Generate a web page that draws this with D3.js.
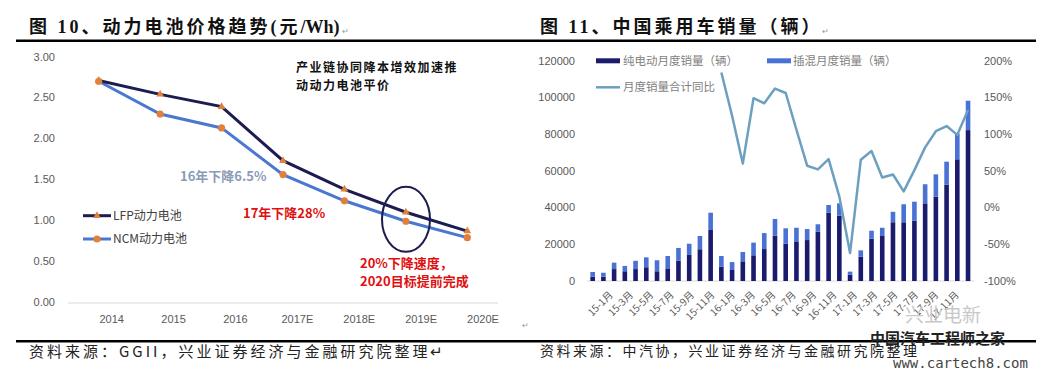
<!DOCTYPE html>
<html>
<head>
<meta charset="utf-8">
<script src="https://cdn.jsdelivr.net/npm/d3@7"></script>
<style>
  body { margin: 0; background: #fff; }
  svg { display: block; }
</style>
</head>
<body>
<svg id="chart" width="1038" height="378"></svg>
<script>
// left chart: battery price (yuan/Wh)
var years = ["2014", "2015", "2016", "2017E", "2018E", "2019E", "2020E"];
var lfpPrice = [2.71, 2.54, 2.39, 1.73, 1.38, 1.10, 0.87];
var ncmPrice = [2.70, 2.30, 2.13, 1.56, 1.24, 0.99, 0.79];
var priceTicks = [0, 0.5, 1, 1.5, 2, 2.5, 3];

// right chart: monthly sales
var months = ["15-1月","15-2月","15-3月","15-4月","15-5月","15-6月","15-7月","15-8月","15-9月","15-10月","15-11月","15-12月",
              "16-1月","16-2月","16-3月","16-4月","16-5月","16-6月","16-7月","16-8月","16-9月","16-10月","16-11月","16-12月",
              "17-1月","17-2月","17-3月","17-4月","17-5月","17-6月","17-7月","17-8月","17-9月","17-10月","17-11月","17-12月"];
var bevSales = [2300, 2300, 6500, 5300, 6500, 7500, 5300, 6900, 11000, 14200, 17300, 27800,
                7800, 6000, 10700, 14000, 17400, 24700, 20300, 21600, 22300, 26900, 37200, 35600,
                3400, 13200, 23000, 24500, 32000, 32000, 32800, 42300, 45900, 52500, 66300, 82200];
var phevSales = [2600, 2200, 3500, 2900, 4500, 5400, 6000, 6700, 7000, 6100, 7200, 9400,
                 5800, 4300, 5100, 6900, 8700, 9100, 8400, 7400, 6000, 4000, 4200, 6700,
                 1700, 3500, 4400, 4500, 5700, 9800, 10400, 10400, 12200, 12500, 14100, 16000];
var yoyMonths = months.slice(12);
var yoyPct = [184, 125, 60, 149, 142, 162, 156, 106, 57, 52, 66, 15,
              -62, 65, 77, 41, 45, 22, 51, 82, 104, 111, 99, 133];
var salesTicks = [0, 20000, 40000, 60000, 80000, 100000, 120000];
var pctTicks = [-100, -50, 0, 50, 100, 150, 200];
var monthLabels = months.filter(function(d, i){ return i % 2 === 0; });

var svg = d3.select("#chart");
var cjk = "'Noto Sans CJK SC', 'Liberation Sans', sans-serif";
var titleFont = "'Liberation Serif', 'Noto Sans CJK SC', serif";
var grey = "#595959";

svg.append("rect").attr("width", 1038).attr("height", 378).attr("fill", "#fff");

// titles and rules
var t1 = svg.append("text").attr("x", 29).attr("y", 33)
  .style("font-family", titleFont).style("font-size", "18px").style("font-weight", "bold")
  .style("letter-spacing", "3px").attr("fill", "#111");
t1.append("tspan").text("图 10、动力电池价格趋势(元");
t1.append("tspan").style("letter-spacing", "0px").text("/Wh)");
var t2 = svg.append("text").attr("x", 540).attr("y", 33)
  .style("font-family", titleFont).style("font-size", "18px").style("font-weight", "bold")
  .style("letter-spacing", "3px").attr("fill", "#111");
t2.append("tspan").text("图 11、中国乘用车销量（辆）");
svg.append("text").attr("x", 342).attr("y", 34).style("font-size", "8px").attr("fill", "#999").text("↵");
svg.append("text").attr("x", 822).attr("y", 34).style("font-size", "8px").attr("fill", "#999").text("↵");

svg.append("line").attr("x1", 16).attr("x2", 1036).attr("y1", 40.7).attr("y2", 40.7)
  .attr("stroke", "#000").attr("stroke-width", 2.5);
svg.append("line").attr("x1", 16).attr("x2", 1036).attr("y1", 341.2).attr("y2", 341.2)
  .attr("stroke", "#000").attr("stroke-width", 2.5);

svg.append("text").attr("x", 29).attr("y", 357)
  .style("font-family", cjk).style("font-size", "15px").style("letter-spacing", "3px").attr("fill", "#222")
  .text("资料来源：GGII，兴业证券经济与金融研究院整理↵");
svg.append("text").attr("x", 540).attr("y", 356)
  .style("font-family", cjk).style("font-size", "14px").style("letter-spacing", "2.5px").attr("fill", "#222")
  .text("资料来源：中汽协，兴业证券经济与金融研究院整理");

// ---------- left chart ----------
var yL = d3.scaleLinear().domain([0, 3]).range([302.3, 56.7]);
var xPt = d3.scalePoint().domain(years).range([98.7, 467.3]);
var xLab = d3.scalePoint().domain(years).range([111.7, 483]);

var left = svg.append("g");

left.append("line").attr("x1", 68).attr("x2", 498).attr("y1", 303).attr("y2", 303)
  .attr("stroke", "#d9d9d9").attr("stroke-width", 1);

left.selectAll(".ytick").data(priceTicks).enter().append("text")
  .attr("x", 55).attr("y", function(d){ return yL(d); }).attr("dy", "0.35em")
  .attr("text-anchor", "end").style("font-family", "'Liberation Sans', sans-serif")
  .style("font-size", "11px").attr("fill", grey)
  .text(function(d){ return d3.format(".2f")(d); });

left.selectAll(".xlab").data(years).enter().append("text")
  .attr("x", function(d){ return xLab(d); }).attr("y", 319).attr("dy", "0.35em")
  .attr("text-anchor", "middle").style("font-family", "'Liberation Sans', sans-serif")
  .style("font-size", "11px").attr("fill", grey)
  .text(function(d){ return d; });

var lineL = function(vals) {
  return d3.line().x(function(d, i){ return xPt(years[i]); }).y(function(d){ return yL(d); })(vals);
};

left.append("path").attr("d", lineL(ncmPrice)).attr("fill", "none")
  .attr("stroke", "#4a78d0").attr("stroke-width", 3);
left.append("path").attr("d", lineL(lfpPrice)).attr("fill", "none")
  .attr("stroke", "#1c1c50").attr("stroke-width", 3);

var tri = d3.symbol().type(d3.symbolTriangle).size(26);
left.selectAll(".lfpm").data(lfpPrice).enter().append("path")
  .attr("d", tri)
  .attr("transform", function(d, i){ return "translate(" + xPt(years[i]) + "," + yL(d) + ")"; })
  .attr("fill", "#e0803a");
left.selectAll(".ncmm").data(ncmPrice).enter().append("circle")
  .attr("cx", function(d, i){ return xPt(years[i]); }).attr("cy", function(d){ return yL(d); })
  .attr("r", 3.6).attr("fill", "#e0803a");

// legend
var legL = [{name: "LFP动力电池", color: "#1c1c50", tri: true, y: 215.7},
            {name: "NCM动力电池", color: "#4a78d0", tri: false, y: 239}];
legL.forEach(function(l) {
  left.append("line").attr("x1", 83).attr("x2", 111).attr("y1", l.y).attr("y2", l.y)
    .attr("stroke", l.color).attr("stroke-width", 3);
  if (l.tri) {
    left.append("path").attr("d", tri).attr("transform", "translate(97," + l.y + ")").attr("fill", "#e0803a");
  } else {
    left.append("circle").attr("cx", 97).attr("cy", l.y).attr("r", 3.6).attr("fill", "#e0803a");
  }
  left.append("text").attr("x", 113).attr("y", l.y).attr("dy", "0.35em")
    .style("font-family", cjk).style("font-size", "12px").attr("fill", "#404040").text(l.name);
});

// annotations
left.append("text").attr("x", 296).attr("y", 72).style("font-family", cjk).style("font-size", "12px")
  .style("font-weight", "bold").style("letter-spacing", "1.5px").attr("fill", "#111").text("产业链协同降本增效加速推");
left.append("text").attr("x", 296).attr("y", 90).style("font-family", cjk).style("font-size", "12px")
  .style("font-weight", "bold").style("letter-spacing", "1.5px").attr("fill", "#111").text("动动力电池平价");
left.append("text").attr("x", 180).attr("y", 181).style("font-family", cjk).style("font-size", "13px")
  .style("font-weight", "bold").attr("fill", "#8a9bb8").text("16年下降6.5%");
left.append("text").attr("x", 243).attr("y", 218).style("font-family", cjk).style("font-size", "13px")
  .style("font-weight", "bold").attr("fill", "#e01010").text("17年下降28%");
left.append("text").attr("x", 360).attr("y", 268).style("font-family", cjk).style("font-size", "13px")
  .style("font-weight", "bold").attr("fill", "#e01010").text("20%下降速度，");
left.append("text").attr("x", 360).attr("y", 286).style("font-family", cjk).style("font-size", "13px")
  .style("font-weight", "bold").attr("fill", "#e01010").text("2020目标提前完成");
left.append("ellipse").attr("cx", 406).attr("cy", 219.3).attr("rx", 24).attr("ry", 32.5)
  .attr("fill", "none").attr("stroke", "#1c1c50").attr("stroke-width", 2);

// ---------- right chart ----------
var xB = d3.scaleBand().domain(months).range([587.3, 973.4]).paddingInner(0.57).paddingOuter(0.285);
var yS = d3.scaleLinear().domain([0, 120000]).range([281, 60.7]);
var yP = d3.scaleLinear().domain([-100, 200]).range([281, 60.7]);
var xMonLab = d3.scalePoint().domain(monthLabels).range([611, 957]);

var right = svg.append("g");

right.append("line").attr("x1", 587).attr("x2", 974).attr("y1", 281).attr("y2", 281)
  .attr("stroke", "#d9d9d9");

right.selectAll(".ys").data(salesTicks).enter().append("text")
  .attr("x", 575).attr("y", function(d){ return yS(d); }).attr("dy", "0.35em")
  .attr("text-anchor", "end").style("font-family", "'Liberation Sans', sans-serif")
  .style("font-size", "11px").attr("fill", grey).text(function(d){ return d; });

right.selectAll(".yp").data(pctTicks).enter().append("text")
  .attr("x", 984).attr("y", function(d){ return yP(d); }).attr("dy", "0.35em")
  .style("font-family", "'Liberation Sans', sans-serif")
  .style("font-size", "11px").attr("fill", grey).text(function(d){ return d + "%"; });

right.selectAll(".bev").data(bevSales).enter().append("rect")
  .attr("x", function(d, i){ return xB(months[i]); })
  .attr("width", xB.bandwidth())
  .attr("y", function(d){ return yS(d); })
  .attr("height", function(d){ return yS(0) - yS(d); })
  .attr("fill", "#1b1b6e");

right.selectAll(".phev").data(phevSales).enter().append("rect")
  .attr("x", function(d, i){ return xB(months[i]); })
  .attr("width", xB.bandwidth())
  .attr("y", function(d, i){ return yS(bevSales[i] + d); })
  .attr("height", function(d){ return yS(0) - yS(d); })
  .attr("fill", "#4a72d4");

var lineR = d3.line()
  .x(function(d, i){ return xB(yoyMonths[i]) + xB.bandwidth() / 2; })
  .y(function(d){ return yP(d); });
right.append("path").attr("d", lineR(yoyPct)).attr("fill", "none")
  .attr("stroke", "#6d9fc0").attr("stroke-width", 2.5).attr("stroke-linejoin", "round");

right.selectAll(".xm").data(monthLabels).enter().append("text")
  .attr("transform", function(d){ return "translate(" + xMonLab(d) + ",293) rotate(-45)"; })
  .attr("dy", "0.35em").attr("text-anchor", "end")
  .style("font-family", cjk).style("font-size", "10px").attr("fill", grey)
  .text(function(d){ return d; });

// legend
right.append("rect").attr("x", 596).attr("y", 58.3).attr("width", 24).attr("height", 5).attr("fill", "#1b1b6e");
right.append("text").attr("x", 623).attr("y", 61).attr("dy", "0.35em").style("font-family", cjk)
  .style("font-size", "11.5px").attr("fill", "#7f7f7f").text("纯电动月度销量（辆）");
right.append("rect").attr("x", 767).attr("y", 58.3).attr("width", 24).attr("height", 5).attr("fill", "#4a72d4");
right.append("text").attr("x", 793).attr("y", 61).attr("dy", "0.35em").style("font-family", cjk)
  .style("font-size", "11.5px").attr("fill", "#7f7f7f").text("插混月度销量（辆）");
right.append("line").attr("x1", 596).attr("x2", 620).attr("y1", 87.3).attr("y2", 87.3)
  .attr("stroke", "#6d9fc0").attr("stroke-width", 2.5);
right.append("text").attr("x", 623).attr("y", 87.3).attr("dy", "0.35em").style("font-family", cjk)
  .style("font-size", "11.5px").attr("fill", "#7f7f7f").text("月度销量合计同比");

right.append("text").attr("x", 522).attr("y", 328).style("font-size", "8px").attr("fill", "#999").text("↵");

// watermark
svg.append("text").attr("x", 905).attr("y", 322).style("font-family", cjk).style("font-size", "19px")
  .attr("fill", "#c8c8c8").text("兴业电新");
svg.append("text").attr("x", 870).attr("y", 344).style("font-family", cjk).style("font-size", "15px")
  .style("font-weight", "bold").attr("fill", "#222").text("中国汽车工程师之家");
svg.append("text").attr("x", 893).attr("y", 368).style("font-family", "'DejaVu Sans Mono', monospace")
  .style("font-size", "14px").attr("fill", "#444").text("www.cartech8.com");
</script>
</body>
</html>
